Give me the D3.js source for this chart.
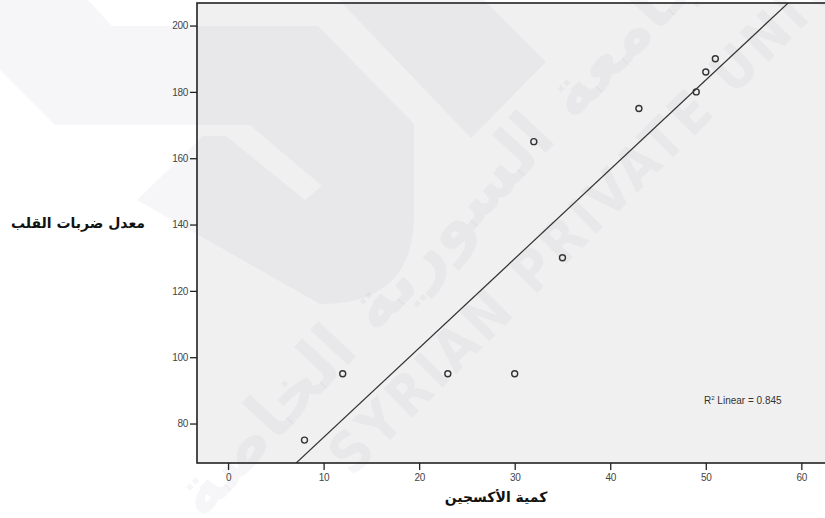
<!doctype html>
<html>
<head>
<meta charset="UTF-8">
<title>scatter</title>
<script src="https://d3js.org/d3.v7.min.js"></script>
<style>
  body { margin: 0; background: #fff; }
  svg { display: block; }
</style>
</head>
<body>
<svg width="825" height="518"></svg>
<script>
// data
var oxygen    = [8, 12, 23, 30, 32, 35, 43, 49, 50, 51];
var heartRate = [75, 95, 95, 95, 165, 130, 175, 180, 186, 190];
var xTicks = [0, 10, 20, 30, 40, 50, 60];
var yTicks = [80, 100, 120, 140, 160, 180, 200];
var xTitle = "كمية الأكسجين";
var yTitle = "معدل ضربات القلب";

var pL = 197, pR = 830, pT = 3, pB = 463;

var svg = d3.select("svg");

var x = d3.scaleLinear().domain([-3.25, 63]).range([pL, pR]);
var y = d3.scaleLinear().domain([68.1, 206.8]).range([pB, pT]);

// plot background
svg.append("rect")
   .attr("x", pL).attr("y", pT)
   .attr("width", pR - pL).attr("height", pB - pT)
   .attr("fill", "#f0f0f0");

// watermark (faint logo + text)
var wm = svg.append("g").attr("fill", "rgb(150,150,178)").attr("fill-opacity", 0.09);
wm.append("path")
  .attr("d", "M0,0 H88 L112,26 H318 L414,124 V215 Q414,304 320,304 L137,200 L203,136 L226,136 L305,200 L322,186 L250,125 H55 L0,70 Z");
wm.append("path")
  .attr("d", "M339,0 L471,138 L546,62 L484,0 Z");
var wt = svg.append("g").attr("fill", "rgb(150,150,178)").attr("fill-opacity", 0.09);
wt.append("text")
  .attr("transform", "translate(472,232) rotate(-47)")
  .attr("text-anchor", "middle")
  .attr("font-family", "DejaVu Sans")
  .attr("font-weight", "bold")
  .attr("font-size", 68)
  .text("الجامعة السورية الخاصة");
wt.append("text")
  .attr("transform", "translate(352,478) rotate(-45)")
  .attr("font-family", "DejaVu Sans Condensed")
  .attr("font-weight", "bold")
  .attr("font-size", 56)
  .attr("letter-spacing", 4)
  .text("SYRIAN PRIVATE UNIVERSITY");

// y axis ticks
var yAxis = svg.append("g").attr("transform", "translate(" + pL + ",0)")
   .call(d3.axisLeft(y).tickValues(yTicks).tickSize(7).tickPadding(2).tickSizeOuter(0));
// x axis ticks
var xAxis = svg.append("g").attr("transform", "translate(0," + pB + ")")
   .call(d3.axisBottom(x).tickValues(xTicks).tickSize(7).tickPadding(4).tickSizeOuter(0));

[yAxis, xAxis].forEach(function(a){
  a.select(".domain").remove();
  a.selectAll(".tick line").attr("stroke", "#222").attr("stroke-width", 1.3);
  a.selectAll(".tick text")
   .attr("fill", "#444")
   .attr("font-family", "Liberation Sans, Arial, sans-serif")
   .attr("font-size", 10)
   .attr("letter-spacing", -0.3);
});

// regression line (least squares from the data)
var mx = d3.mean(oxygen), my = d3.mean(heartRate);
var sxy = d3.sum(oxygen, function(v, i){ return (v - mx) * (heartRate[i] - my); });
var sxx = d3.sum(oxygen, function(v){ return (v - mx) * (v - mx); });
var syy = d3.sum(heartRate, function(v){ return (v - my) * (v - my); });
var slope = sxy / sxx, icpt = my - slope * mx;
var r2 = sxy * sxy / (sxx * syy);

svg.append("clipPath").attr("id", "plotclip")
   .append("rect").attr("x", pL).attr("y", pT)
   .attr("width", pR - pL).attr("height", pB - pT);

var xs = x.domain();
svg.append("line")
   .attr("clip-path", "url(#plotclip)")
   .attr("x1", x(xs[0])).attr("y1", y(icpt + slope * xs[0]))
   .attr("x2", x(xs[1])).attr("y2", y(icpt + slope * xs[1]))
   .attr("stroke", "#333").attr("stroke-width", 1.2);

// points
svg.selectAll("circle.pt")
   .data(oxygen)
   .enter().append("circle")
   .attr("class", "pt")
   .attr("cx", function(d){ return x(d); })
   .attr("cy", function(d, i){ return y(heartRate[i]); })
   .attr("r", 3)
   .attr("fill", "none")
   .attr("stroke", "#333")
   .attr("stroke-width", 1.4);

// frame
svg.append("rect")
   .attr("x", pL).attr("y", pT)
   .attr("width", pR - pL).attr("height", pB - pT)
   .attr("fill", "none").attr("stroke", "#222").attr("stroke-width", 1.6);

// R2 note
var note = svg.append("text")
   .attr("x", 704).attr("y", 404)
   .attr("font-family", "Liberation Sans, Arial, sans-serif")
   .attr("font-size", 10)
   .attr("fill", "#333");
note.append("tspan").text("R");
note.append("tspan").attr("font-size", 6).attr("dy", -4).text("2");
note.append("tspan").attr("dy", 4).text(" Linear = " + d3.format(".3f")(r2));

// axis titles
svg.append("text")
   .attr("x", 496).attr("y", 502)
   .attr("text-anchor", "middle")
   .attr("font-family", "DejaVu Sans")
   .attr("font-weight", "bold")
   .attr("font-size", 14)
   .attr("fill", "#111")
   .text(xTitle);

svg.append("text")
   .attr("x", 145).attr("y", 228)
   .attr("text-anchor", "end")
   .attr("font-family", "DejaVu Sans")
   .attr("font-weight", "bold")
   .attr("font-size", 14)
   .attr("fill", "#111")
   .text(yTitle);
</script>
</body>
</html>
